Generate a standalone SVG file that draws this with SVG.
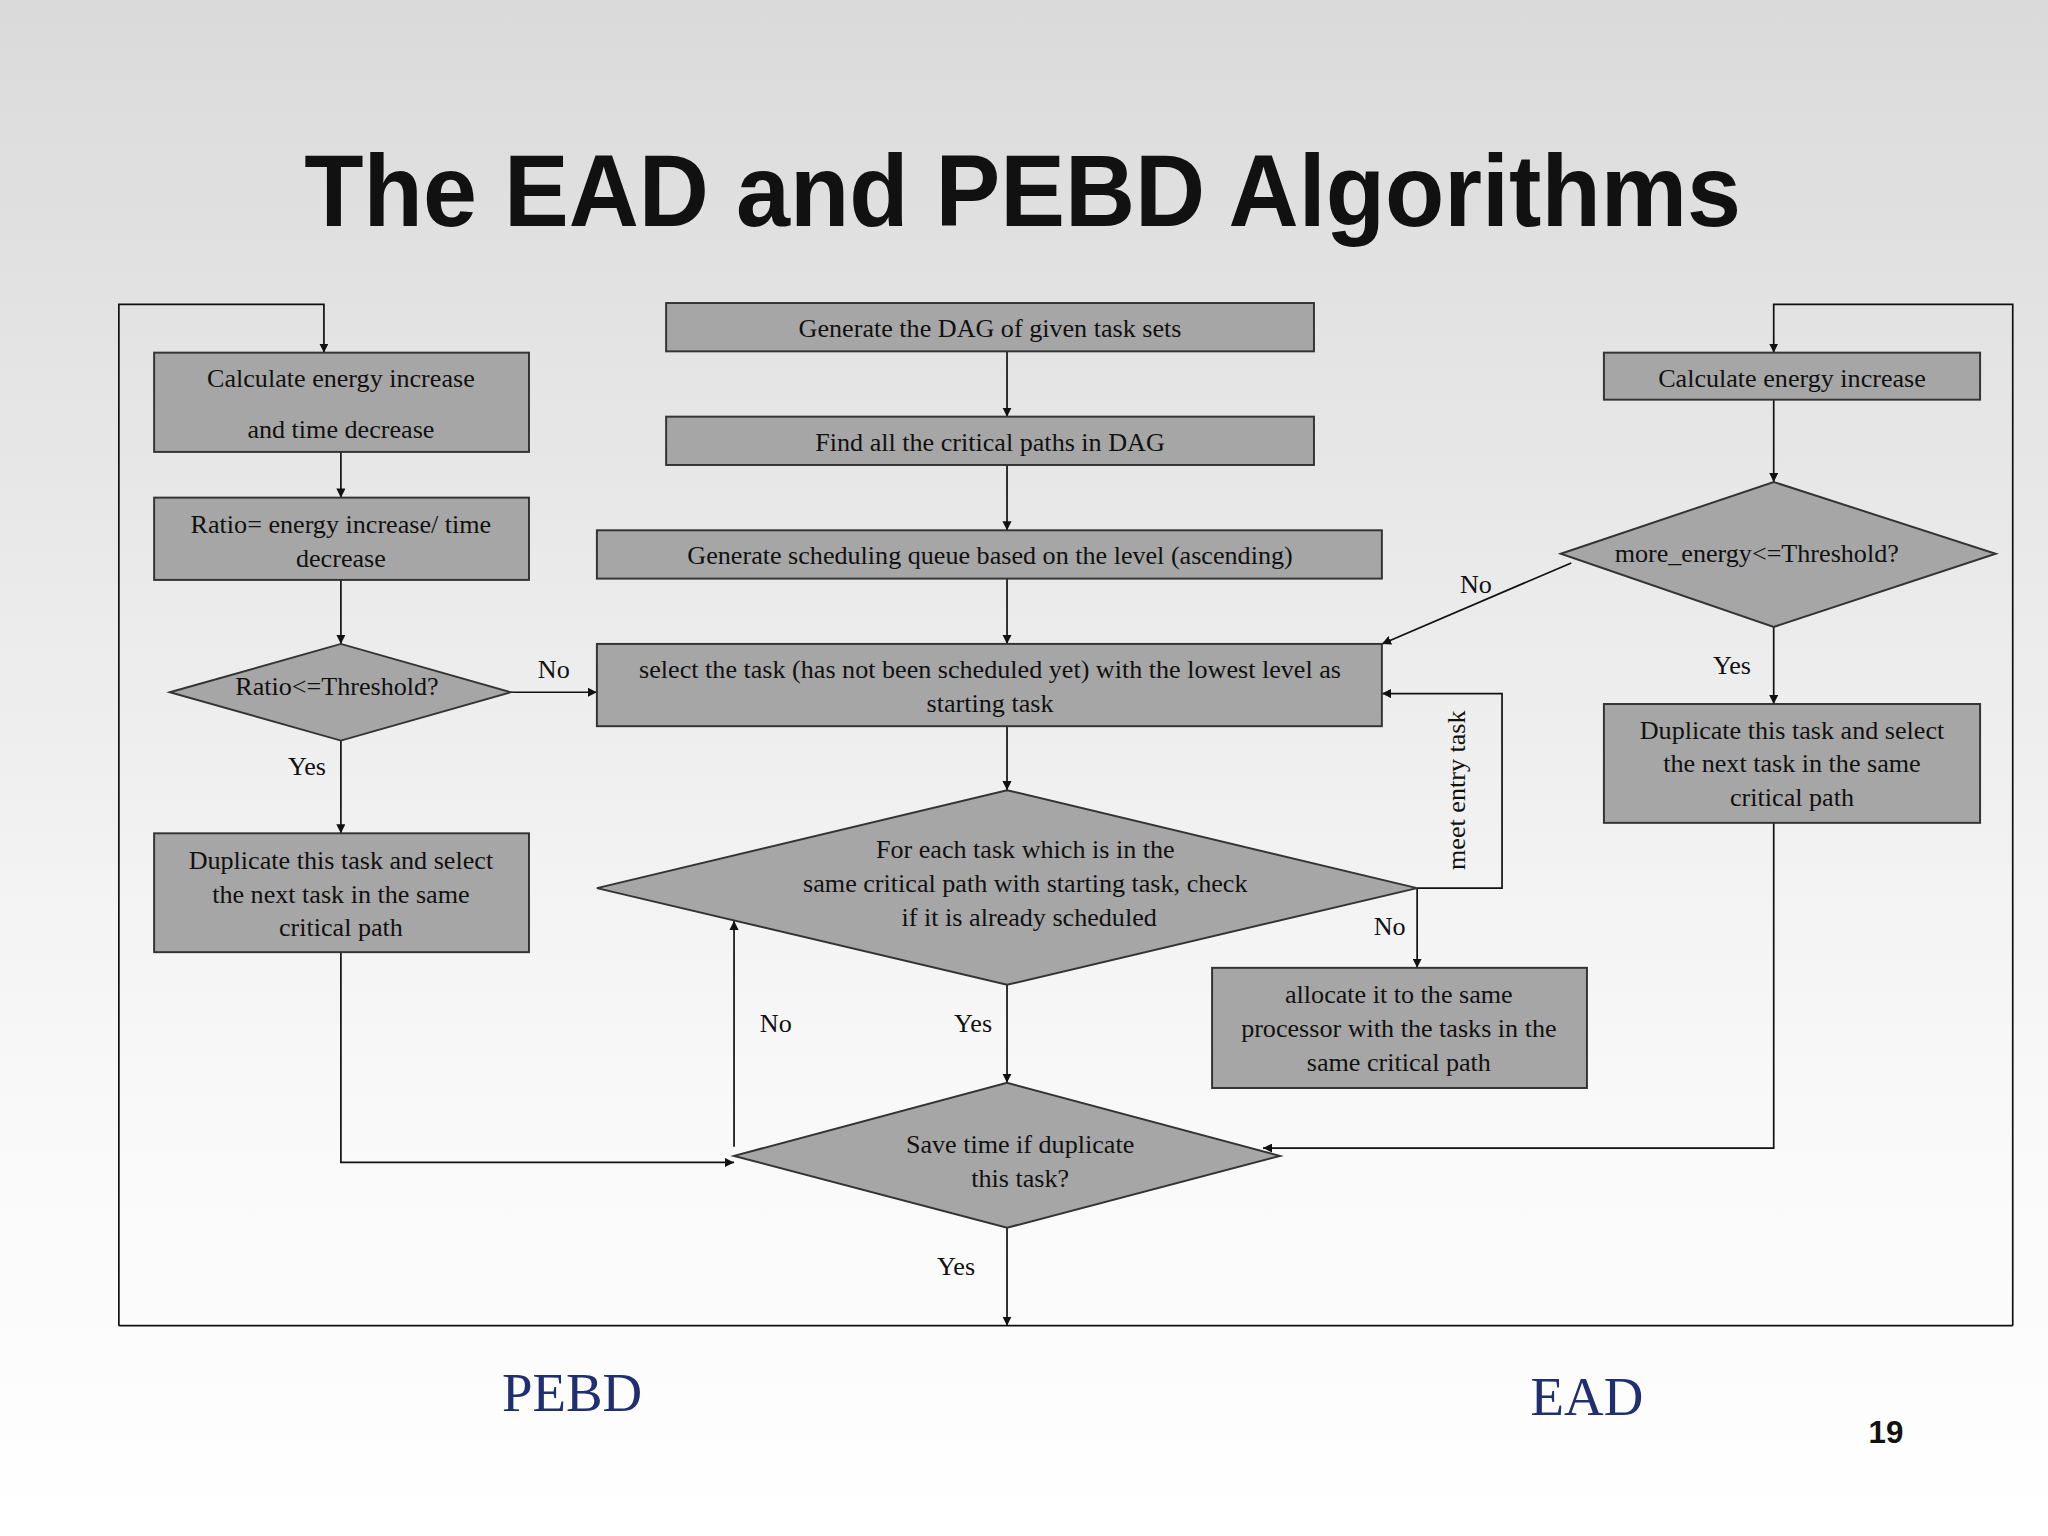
<svg xmlns="http://www.w3.org/2000/svg" width="2048" height="1536" viewBox="0 0 2048 1536">
<defs>
<linearGradient id="bg" x1="0" y1="0" x2="0" y2="1"><stop offset="0" stop-color="#dadada"/><stop offset="0.7" stop-color="#f8f8f8"/><stop offset="1" stop-color="#ffffff"/></linearGradient>
<marker id="ar" viewBox="0 0 10 10" refX="10" refY="5" markerWidth="7" markerHeight="7" orient="auto" markerUnits="userSpaceOnUse"><path d="M0,0 L10,5 L0,10 z" fill="#111"/></marker>
<style>
.n{fill:#a6a6a6;stroke:#333;stroke-width:1.5}
.t{font-family:"Liberation Serif",serif;font-size:20px;fill:#111;text-anchor:middle}
.c{fill:none;stroke:#111;stroke-width:1.3}
.a{marker-end:url(#ar)}
</style>
</defs>
<rect width="2048" height="1536" fill="url(#bg)"/>
<g transform="scale(1.30612)">
<text x="783" y="173" font-family="'Liberation Sans',sans-serif" font-weight="bold" font-size="78" text-anchor="middle" textLength="1100" lengthAdjust="spacingAndGlyphs" fill="#111">The EAD and PEBD Algorithms</text>
<g id="connectors">
<path class="c a" d="M91,1015 V233 H248 V270"/>
<path class="c a" d="M1541,1015 V233 H1358 V270"/>
<path class="c" d="M91,1015 H1541"/>
<path class="c a" d="M771,269 V319"/>
<path class="c a" d="M771,356 V406"/>
<path class="c a" d="M771,443 V493"/>
<path class="c a" d="M771,556 V605"/>
<path class="c a" d="M1085,680 H1150 V531 H1058"/>
<path class="c a" d="M1085,680 V741"/>
<path class="c a" d="M771,754 V829"/>
<path class="c a" d="M562,878 V705"/>
<path class="c a" d="M771,940 V1015"/>
<path class="c a" d="M261,346 V381"/>
<path class="c a" d="M261,444 V493"/>
<path class="c a" d="M391,530 H457"/>
<path class="c a" d="M261,567 V638"/>
<path class="c a" d="M261,729 V890 H562"/>
<path class="c a" d="M1358,306 V369"/>
<path class="c a" d="M1203,431 L1058,493"/>
<path class="c a" d="M1358,480 V539"/>
<path class="c a" d="M1358,630 V879 H967"/>
<text class="t" x="1122" y="605" transform="rotate(-90 1122 605)">meet entry task</text>
<text class="t" x="1064" y="716">No</text>
<text class="t" x="745" y="790">Yes</text>
<text class="t" x="594" y="790">No</text>
<text class="t" x="732" y="976">Yes</text>
<text class="t" x="424" y="519">No</text>
<text class="t" x="235" y="593">Yes</text>
<text class="t" x="1130" y="454">No</text>
<text class="t" x="1326" y="516">Yes</text>
</g>
<g id="b1"><rect class="n" x="510" y="232" width="496" height="37"/><text class="t" x="758" y="258">Generate the DAG of given task sets</text></g>
<g id="b2"><rect class="n" x="510" y="319" width="496" height="37"/><text class="t" x="758" y="345">Find all the critical paths in DAG</text></g>
<g id="b3"><rect class="n" x="457" y="406" width="601" height="37"/><text class="t" x="758" y="432">Generate scheduling queue based on the level (ascending)</text></g>
<g id="b4"><rect class="n" x="457" y="493" width="601" height="63"/><text class="t" x="758" y="519">select the task (has not been scheduled yet) with the lowest level as</text><text class="t" x="758" y="545">starting task</text></g>
<g id="d1"><polygon class="n" points="457,680 771,605 1085,680 771,754"/><text class="t" x="785" y="657">For each task which is in the</text><text class="t" x="785" y="683">same critical path with starting task, check</text><text class="t" x="788" y="709">if it is already scheduled</text></g>
<g id="b5"><rect class="n" x="928" y="741" width="287" height="92"/><text class="t" x="1071" y="768">allocate it to the same</text><text class="t" x="1071" y="794">processor with the tasks in the</text><text class="t" x="1071" y="820">same critical path</text></g>
<g id="d2"><polygon class="n" points="562,885 771,829 980,885 771,940"/><text class="t" x="781" y="883">Save time if duplicate</text><text class="t" x="781" y="909">this task?</text></g>
<g id="l1"><rect class="n" x="118" y="270" width="287" height="76"/><text class="t" x="261" y="296">Calculate energy increase</text><text class="t" x="261" y="335">and time decrease</text></g>
<g id="l2"><rect class="n" x="118" y="381" width="287" height="63"/><text class="t" x="261" y="408">Ratio= energy increase/ time</text><text class="t" x="261" y="434">decrease</text></g>
<g id="ld"><polygon class="n" points="130,530 261,493 391,530 261,567"/><text class="t" x="258" y="532">Ratio&lt;=Threshold?</text></g>
<g id="l3"><rect class="n" x="118" y="638" width="287" height="91"/><text class="t" x="261" y="665">Duplicate this task and select</text><text class="t" x="261" y="691">the next task in the same</text><text class="t" x="261" y="717">critical path</text></g>
<g id="r1"><rect class="n" x="1228" y="270" width="288" height="36"/><text class="t" x="1372" y="296">Calculate energy increase</text></g>
<g id="rd"><polygon class="n" points="1195,424 1358,369 1528,424 1358,480"/><text class="t" x="1345" y="430">more_energy&lt;=Threshold?</text></g>
<g id="r2"><rect class="n" x="1228" y="539" width="288" height="91"/><text class="t" x="1372" y="566">Duplicate this task and select</text><text class="t" x="1372" y="591">the next task in the same</text><text class="t" x="1372" y="617">critical path</text></g>
<text x="438" y="1080" font-family="'Liberation Serif',serif" font-size="42" fill="#1f2f6f" text-anchor="middle">PEBD</text>
<text x="1215" y="1083" font-family="'Liberation Serif',serif" font-size="42" fill="#1f2f6f" text-anchor="middle">EAD</text>
<text x="1444" y="1105" font-family="'Liberation Sans',sans-serif" font-weight="bold" font-size="24" fill="#111" text-anchor="middle">19</text>
</g>
</svg>
